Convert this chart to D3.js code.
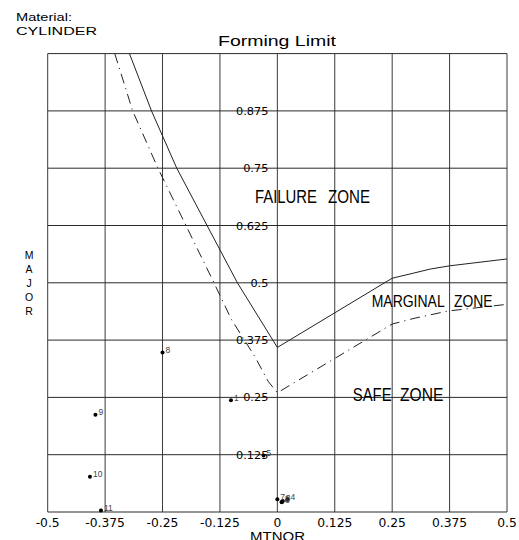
<!DOCTYPE html>
<html>
<head>
<meta charset="utf-8">
<script src="https://cdn.jsdelivr.net/npm/d3@7"></script>
<style>
  html, body { margin: 0; padding: 0; background: #fff; }
  svg { display: block; }
  text { font-family: "Liberation Sans", Arial, sans-serif; fill: #000; }
</style>
</head>
<body>
<svg id="chart" width="519" height="540"></svg>
<script>
// ---- data ----
const xTicks = [-0.5, -0.375, -0.25, -0.125, 0, 0.125, 0.25, 0.375, 0.5];
const xTickLabels = ["-0.5", "-0.375", "-0.25", "-0.125", "0", "0.125", "0.25", "0.375", "0.5"];
const yTicks = [0, 0.125, 0.25, 0.375, 0.5, 0.625, 0.75, 0.875, 1.0];
const yTickLabels = ["", "0.125", "0.25", "0.375", "0.5", "0.625", "0.75", "0.875", ""];

// forming limit curve (solid)
const flcMinor = [-0.322, -0.274, -0.219, -0.153, -0.087, 0, 0.25, 0.296, 0.333, 0.375, 0.5];
const flcMajor = [1.0, 0.875, 0.75, 0.625, 0.5, 0.359, 0.51, 0.521, 0.53, 0.537, 0.552];
// safety margin curve (dashed)
const safeMinor = [-0.354, -0.315, -0.26, -0.199, -0.138, -0.1, -0.049, -0.02, 0, 0.25, 0.3, 0.372, 0.5];
const safeMajor = [1.0, 0.875, 0.75, 0.625, 0.5, 0.42, 0.339, 0.285, 0.26, 0.41, 0.423, 0.4385, 0.453];

// measured points
const pointIds = ["1", "2", "3", "4", "5", "6", "7", "8", "9", "10", "11"];
const pointMinor = [-0.101, 0.009, 0.012, 0.022, -0.03, 0.010, 0.0, -0.25, -0.396, -0.408, -0.384];
const pointMajor = [0.244, 0.022, 0.024, 0.028, 0.123, 0.021, 0.028, 0.348, 0.212, 0.077, 0.003];

const zoneLabels = ["FAILURE", "ZONE", "MARGINAL", "ZONE", "SAFE", "ZONE"];
const majorLetters = ["M", "A", "J", "O", "R"];

// ---- chart ----
const svg = d3.select("#chart");
const x = d3.scaleLinear().domain([-0.5, 0.5]).range([47.7, 507]);
const y = d3.scaleLinear().domain([0, 1]).range([512, 53.6]);

// grid
svg.append("g").selectAll("line").data(xTicks).join("line")
  .attr("x1", d => x(d)).attr("x2", d => x(d))
  .attr("y1", y(0)).attr("y2", y(1))
  .attr("stroke", "#3a3a3a").attr("stroke-width", 1);
svg.append("g").selectAll("line").data(yTicks).join("line")
  .attr("x1", x(-0.5)).attr("x2", x(0.5))
  .attr("y1", d => y(d)).attr("y2", d => y(d))
  .attr("stroke", "#2a2a2a").attr("stroke-width", 1);

// x tick labels
svg.append("g").selectAll("text").data(xTicks).join("text")
  .attr("x", d => x(d)).attr("y", 526.5)
  .attr("text-anchor", "middle")
  .style("font-family", "'DejaVu Sans', sans-serif")
  .style("font-size", "12.3px")
  .text((d, i) => xTickLabels[i]);

// y tick labels (right aligned, left of the zero axis)
svg.append("g").selectAll("text").data(yTicks.filter((d, i) => yTickLabels[i] !== "")).join("text")
  .attr("x", x(0) - 9).attr("y", d => y(d) + 4)
  .attr("text-anchor", "end")
  .style("font-family", "'DejaVu Sans', sans-serif")
  .style("font-size", "11.3px")
  .text(d => yTickLabels[yTicks.indexOf(d)]);

// curves
const clip = svg.append("clipPath").attr("id", "plotclip").append("rect")
  .attr("x", x(-0.5)).attr("y", y(1)).attr("width", x(0.5) - x(-0.5)).attr("height", y(0) - y(1));
const line = d3.line().x(d => x(d[0])).y(d => y(d[1]));
svg.append("path")
  .attr("d", line(flcMinor.map((m, i) => [m, flcMajor[i]])))
  .attr("fill", "none").attr("stroke", "#222").attr("stroke-width", 1)
  .attr("clip-path", "url(#plotclip)");
svg.append("path")
  .attr("d", line(safeMinor.map((m, i) => [m, safeMajor[i]])))
  .attr("fill", "none").attr("stroke", "#222").attr("stroke-width", 1)
  .attr("stroke-dasharray", "10,5,1.2,5")
  .attr("clip-path", "url(#plotclip)");

// zone labels
const zonePos = [
  {x: 255, y: 203, w: 62, fs: 17.5},
  {x: 328, y: 203, w: 42, fs: 17.5},
  {x: 371.7, y: 306.5, w: 73, fs: 16},
  {x: 454, y: 306.5, w: 38.5, fs: 16},
  {x: 352.7, y: 401, w: 39, fs: 17.5},
  {x: 400, y: 401, w: 43.3, fs: 17.5}
];
svg.append("g").selectAll("text").data(zoneLabels).join("text")
  .attr("x", (d, i) => zonePos[i].x).attr("y", (d, i) => zonePos[i].y)
  .style("font-size", (d, i) => zonePos[i].fs + "px")
  .attr("textLength", (d, i) => zonePos[i].w)
  .attr("lengthAdjust", "spacingAndGlyphs")
  .text(d => d);

// points
const pts = pointIds.map((id, i) => ({id, mx: pointMinor[i], my: pointMajor[i]}));
svg.append("g").selectAll("circle").data(pts).join("circle")
  .attr("cx", d => x(d.mx)).attr("cy", d => y(d.my)).attr("r", 2)
  .attr("fill", "#000");
svg.append("g").selectAll("text").data(pts).join("text")
  .attr("x", d => x(d.mx) + 3).attr("y", d => y(d.my) + 0.5)
  .style("font-size", "8.5px").style("fill", "#444")
  .text(d => d.id);

// title & header
svg.append("text").attr("x", 218).attr("y", 45.5)
  .style("font-size", "14px")
  .attr("textLength", 118).attr("lengthAdjust", "spacingAndGlyphs")
  .text("Forming Limit");
svg.append("text").attr("x", 16).attr("y", 20.5)
  .style("font-size", "10px")
  .attr("textLength", 56).attr("lengthAdjust", "spacingAndGlyphs")
  .text("Material:");
svg.append("text").attr("x", 16).attr("y", 34.5)
  .style("font-size", "10px")
  .attr("textLength", 81).attr("lengthAdjust", "spacingAndGlyphs")
  .text("CYLINDER");

// axis titles
svg.append("g").selectAll("text").data(majorLetters).join("text")
  .attr("x", 29).attr("y", (d, i) => 259 + i * 14)
  .attr("text-anchor", "middle")
  .style("font-size", "10.5px")
  .text(d => d);
svg.append("text").attr("x", 250).attr("y", 541)
  .style("font-size", "12.5px")
  .attr("textLength", 55).attr("lengthAdjust", "spacingAndGlyphs")
  .text("MTNOR");
</script>
</body>
</html>
